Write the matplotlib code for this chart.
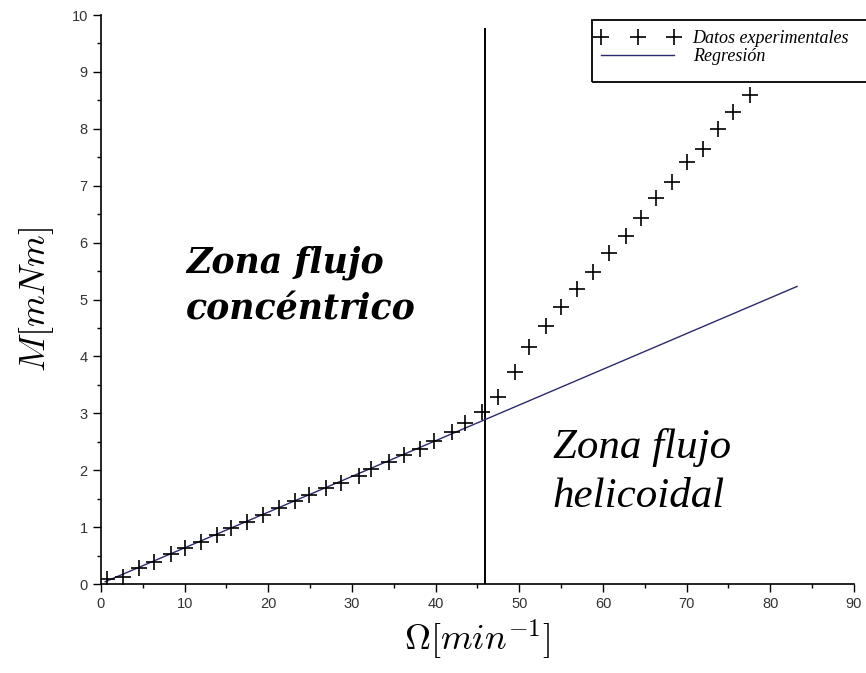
import matplotlib
matplotlib.use("Agg")
import matplotlib.pyplot as plt
from matplotlib.patches import Rectangle
from matplotlib.ticker import MultipleLocator

plt.rcParams["mathtext.fontset"] = "cm"

# velocidad angular [min^-1] y par medido [mNm]
omega = [0.7, 2.6, 4.6, 6.3, 8.4, 10.0, 11.9, 13.9, 15.6, 17.5, 19.4, 21.3, 23.2,
         24.9, 26.9, 28.7, 30.8, 32.3, 34.4, 36.2, 38.1, 39.8, 41.9, 43.5, 45.6,
         47.4, 49.5, 51.2, 53.2, 55.0, 56.9, 58.8, 60.7, 62.7, 64.5, 66.3, 68.2,
         70.1, 72.0, 73.7, 75.6, 77.6]
torque = [0.08, 0.13, 0.28, 0.39, 0.53, 0.63, 0.73, 0.86, 0.98, 1.09, 1.21, 1.33, 1.46,
          1.56, 1.68, 1.78, 1.90, 2.03, 2.15, 2.26, 2.38, 2.51, 2.68, 2.83, 3.03,
          3.29, 3.73, 4.17, 4.53, 4.86, 5.19, 5.49, 5.81, 6.12, 6.44, 6.79, 7.07,
          7.42, 7.64, 7.99, 8.29, 8.59]

# recta de regresion (zona laminar)
reg_omega = [0.5, 83.2]
reg_torque = [0.04, 5.23]

# frontera entre zonas
omega_crit = 45.9
torque_top = 9.75

W, H = 866, 673
fig = plt.figure(figsize=(W / 100, H / 100), dpi=100)
ax = fig.add_axes([0.1166, 0.1322, 0.8695, 0.8455])

ax.plot(reg_omega, reg_torque, color="#2a2a6e", lw=1.0, label="Regresión", zorder=2)
ax.plot(omega, torque, linestyle="none", marker="+", markersize=11, markeredgewidth=1.2,
        color="black", label="Datos experimentales", zorder=3)
ax.plot([omega_crit, omega_crit], [0, torque_top], color="black", lw=1.4, zorder=1)

ax.set_xlim(0, 90)
ax.set_ylim(0, 10)
ax.xaxis.set_major_locator(MultipleLocator(10))
ax.xaxis.set_minor_locator(MultipleLocator(5))
ax.yaxis.set_major_locator(MultipleLocator(1))
ax.yaxis.set_minor_locator(MultipleLocator(0.5))
ax.tick_params(which="major", direction="out", length=6, width=1.0,
               labelsize=10.5, labelcolor="#333333")
ax.tick_params(which="minor", direction="out", length=3, width=1.0)
for lab in ax.get_xticklabels() + ax.get_yticklabels():
    lab.set_family("Liberation Sans")

for side in ["top", "right"]:
    ax.spines[side].set_visible(False)
for side in ["left", "bottom"]:
    ax.spines[side].set_linewidth(1.2)

ax.set_xlabel(r"$\Omega[min^{-1}]$", fontsize=26, labelpad=5)
ax.set_ylabel(r"$M[mNm]$", fontsize=26, labelpad=11)

ax.text(10.2, 4.65, "Zona flujo\nconcéntrico", family="DejaVu Serif",
        style="italic", weight="bold", fontsize=25, linespacing=1.45)
ax.text(54.0, 1.35, "Zona flujo\nhelicoidal", family="Liberation Serif",
        style="italic", fontsize=31, linespacing=1.35)

# leyenda sin marco; el recuadro se dibuja aparte y se sale por la derecha
leg = ax.legend(handles=ax.get_lines()[1::-1], loc="upper left",
                bbox_to_anchor=(596 / W, 1 - 30 / H), bbox_transform=fig.transFigure,
                numpoints=3, handlelength=4.6, handletextpad=0.75,
                prop={"family": "Liberation Serif", "style": "italic", "size": 13},
                frameon=False, borderpad=0, labelspacing=0.05, borderaxespad=0)
fig.patches.append(Rectangle((592 / W, 1 - 82 / H), 300 / W, 62 / H,
                             transform=fig.transFigure, fill=False,
                             edgecolor="black", lw=1.3))

fig.savefig("out.png", dpi=100)
